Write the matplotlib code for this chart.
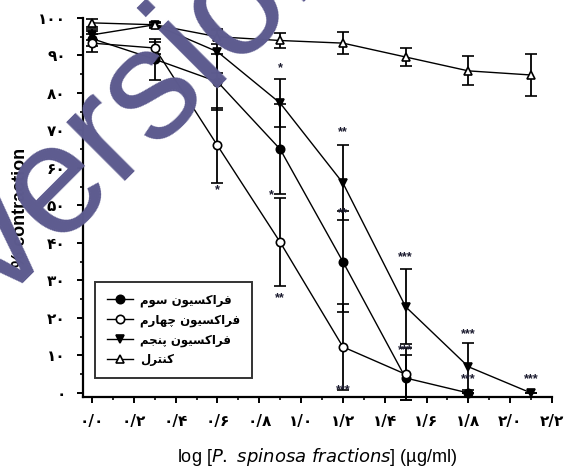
import matplotlib
matplotlib.use('Agg')
import matplotlib.pyplot as plt
from matplotlib.ticker import MultipleLocator, FuncFormatter

# log dose (x) and % contraction for each fraction
log_dose = [0.0, 0.3, 0.6, 0.9, 1.2, 1.5, 1.8, 2.1]

frac3 = [94.5, 89.0, 83.0, 65.0, 35.0, 4.0, 0.0]
frac3_err = [2.0, 5.5, 7.5, 12.0, 13.5, 6.0, 0.0]

frac4 = [93.3, 92.0, 66.0, 40.2, 12.3, 5.0]
frac4_err = [2.5, 1.5, 10.0, 11.7, 11.5, 7.0]

frac5 = [95.5, 98.2, 91.0, 77.3, 56.0, 23.0, 7.0, 0.0]
frac5_err = [1.5, 0.5, 5.7, 6.5, 10.0, 10.0, 6.3, 0.0]

control = [98.7, 98.2, 95.0, 94.0, 93.3, 89.6, 85.9, 84.8]
control_err = [1.0, 0.8, 2.0, 2.0, 3.0, 2.5, 3.9, 5.5]

# legend labels, Persian, written in visual order with presentation forms
labels = [
    '\ufee1\ufeee\ufeb3 \ufee5\ufeee\ufef4\ufeb4\ufedb\ufe8d\ufeae\ufed3',            # fraction 3
    '\ufee1\ufead\ufe8e\ufeec\ufb7c \ufee5\ufeee\ufef4\ufeb4\ufedb\ufe8d\ufeae\ufed3',  # fraction 4
    '\ufee2\ufea0\ufee8\ufb58 \ufee5\ufeee\ufef4\ufeb4\ufedb\ufe8d\ufeae\ufed3',        # fraction 5
    '\ufedd\ufeae\ufe98\ufee8\ufedb',                                                    # control
]

# significance marks (x, y, text)
star_x = [0.6, 0.9, 0.86, 0.9, 1.2, 1.2, 1.2, 1.5, 1.5, 1.8, 1.8, 2.1]
star_y = [54.0, 86.7, 52.8, 25.3, 69.6, 48.0, 0.8, 36.3, 11.5, 15.7, 3.7, 3.7]
star_txt = ['*', '*', '*', '**', '**', '**', '***', '***', '***', '***', '***', '***']

fa_digits = str.maketrans('0123456789.', '\u06f0\u06f1\u06f2\u06f3\u06f4\u06f5\u06f6\u06f7\u06f8\u06f9/')

fig = plt.figure(figsize=(5.68, 4.68), dpi=100)
ax = fig.add_axes([83/568, 71/468, 469/568, 379/468])

kw = dict(color='k', lw=1.0, capsize=4, elinewidth=1.3, capthick=1.3, ms=6, clip_on=False, mew=1.2)
n3 = len(frac3)
n4 = len(frac4)
h3 = ax.errorbar(log_dose[:n3], frac3, yerr=frac3_err, marker='o', mfc='k', **kw)
h4 = ax.errorbar(log_dose[:n4], frac4, yerr=frac4_err, marker='o', mfc='white', **kw)
h5 = ax.errorbar(log_dose, frac5, yerr=frac5_err, marker='v', mfc='k', **kw)
hc = ax.errorbar(log_dose, control, yerr=control_err, marker='^', mfc='white', **kw)

for sx, sy, st in zip(star_x, star_y, star_txt):
    ax.text(sx, sy, st, ha='center', va='center', fontsize=9, fontweight='bold',
            color='#1c1c30', family='Liberation Sans')

ax.set_xlim(-0.043, 2.2)
ax.set_ylim(-1.07, 100)
for s in ['top', 'right']:
    ax.spines[s].set_visible(False)
for s in ['left', 'bottom']:
    ax.spines[s].set_linewidth(1.6)

ax.xaxis.set_major_locator(MultipleLocator(0.2))
ax.xaxis.set_minor_locator(MultipleLocator(0.1))
ax.yaxis.set_major_locator(MultipleLocator(10))
ax.yaxis.set_minor_locator(MultipleLocator(5))
ax.xaxis.set_major_formatter(FuncFormatter(lambda v, p: ('%.1f' % abs(v)).translate(fa_digits)))
ax.yaxis.set_major_formatter(FuncFormatter(lambda v, p: ('%d' % round(v)).translate(fa_digits)))
ax.tick_params(which='major', direction='out', length=4.5, width=1.4, pad=8, labelsize=11)
ax.tick_params(which='minor', direction='out', length=2.5, width=1.2)
for t in ax.get_xticklabels() + ax.get_yticklabels():
    t.set_fontweight('bold')
    t.set_family('DejaVu Sans')

ax.set_xlabel('log [$\\it{P.\\ spinosa\\ fractions}$] (\u00b5g/ml)', fontsize=13,
              family='Liberation Sans', labelpad=12)
ax.set_ylabel('% contraction', fontsize=13, fontweight='bold', family='Liberation Sans', labelpad=6)

leg = ax.legend([h3[0], h4[0], h5[0], hc[0]], labels, loc='lower left', bbox_to_anchor=(0.026, 0.05),
                borderaxespad=0, frameon=True, fancybox=False, handlelength=2.2,
                prop={'family': 'DejaVu Sans', 'size': 8.5, 'weight': 'bold'},
                labelspacing=0.55, borderpad=1.0, handletextpad=0.6)
leg.get_frame().set_edgecolor('k')
leg.get_frame().set_linewidth(1.4)

# converter watermark
fig.text(0.6/568, 163.8/468, 'version', rotation=45, rotation_mode='anchor', ha='left', va='baseline',
         fontsize=113, color='#5d5b8f', family='Liberation Sans', zorder=10)

fig.savefig('out.png', dpi=100)
